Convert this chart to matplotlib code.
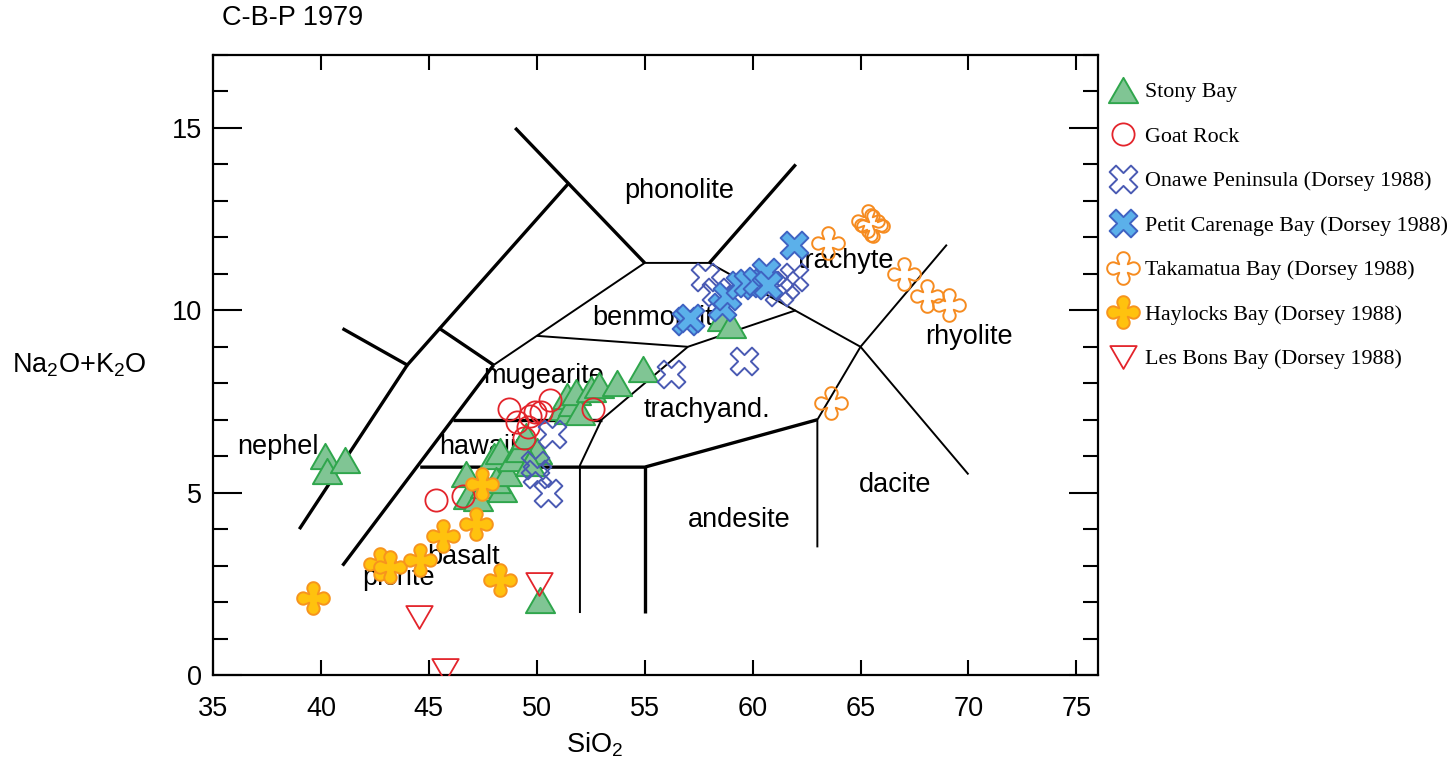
import numpy as np
import matplotlib.pyplot as plt
from matplotlib.path import Path

plt.rcParams['font.family'] = ['Liberation Sans', 'DejaVu Sans']
plt.rcParams['mathtext.default'] = 'regular'

# --- sample data: SiO2 (wt%) and Na2O+K2O (wt%) ---
stony_sio2 = [40.2, 40.3, 41.1, 46.7, 46.8, 47.3, 47.6, 48.0, 48.3, 48.4, 48.1, 48.6, 48.9,
              49.2, 49.5, 50.0, 49.7, 50.15, 51.2, 51.4, 51.5, 51.7, 51.8, 52.0, 52.5, 52.9,
              53.7, 54.9, 58.6, 59.0]
stony_alk = [6.0, 5.6, 5.9, 5.5, 4.9, 4.85, 5.2, 6.0, 6.15, 5.1, 5.35, 5.55, 5.95,
             6.2, 6.55, 6.15, 5.8, 2.05, 7.35, 7.65, 7.25, 7.45, 7.75, 7.2, 7.85, 7.95,
             8.0, 8.4, 9.8, 9.6]

goat_sio2 = [45.35, 46.6, 48.7, 49.1, 49.4, 49.6, 49.7, 49.9, 50.2, 50.6, 52.6]
goat_alk = [4.8, 4.9, 7.3, 6.95, 6.5, 6.8, 7.1, 7.2, 7.2, 7.55, 7.3]

onawe_sio2 = [49.9, 50.0, 50.5, 50.7, 56.2, 57.8, 58.3, 59.6, 61.2, 61.5, 61.9]
onawe_alk = [5.75, 5.5, 5.0, 6.6, 8.25, 10.9, 10.5, 8.6, 10.5, 10.7, 10.9]

petit_sio2 = [56.9, 57.1, 58.6, 58.8, 59.4, 59.8, 60.2, 60.6, 60.7, 61.9]
petit_alk = [9.7, 9.8, 10.1, 10.4, 10.7, 10.75, 10.8, 11.05, 10.7, 11.8]

taka_sio2 = [63.5, 65.35, 65.5, 65.6, 67.0, 68.1, 69.1, 63.65]
taka_alk = [11.85, 12.45, 12.35, 12.3, 11.0, 10.4, 10.15, 7.45]

hay_sio2 = [39.65, 42.75, 43.2, 44.6, 45.65, 47.2, 47.45, 48.3]
hay_alk = [2.1, 3.05, 2.95, 3.15, 3.8, 4.15, 5.25, 2.6]

bons_sio2 = [44.55, 45.75, 50.1]
bons_alk = [1.6, 0.15, 2.5]

# --- C-B-P 1979 field boundaries ---
thick_lines = [
    [(39.0, 4.0), (44.0, 8.5)],
    [(41.0, 9.5), (44.0, 8.5), (45.5, 9.5), (48.0, 8.5)],
    [(45.5, 9.5), (51.5, 13.5)],
    [(49.0, 15.0), (55.0, 11.3)],
    [(58.0, 11.3), (62.0, 14.0)],
    [(41.0, 3.0), (48.0, 8.5)],
    [(46.1, 7.0), (53.0, 7.0)],
    [(44.6, 5.7), (55.0, 5.7), (63.0, 7.0)],
    [(55.0, 5.7), (55.0, 1.7)],
]
thin_lines = [
    [(48.0, 8.5), (50.0, 9.3), (55.0, 11.3), (58.0, 11.3), (65.0, 9.0), (70.0, 5.5)],
    [(50.0, 9.3), (57.0, 9.0), (62.0, 10.0)],
    [(57.0, 9.0), (53.0, 7.0), (52.0, 5.75), (52.0, 1.7)],
    [(63.0, 3.5), (63.0, 7.0), (65.0, 9.0), (69.0, 11.8)],
]

field_names = ['phonolite', 'trachyte', 'rhyolite', 'benmoreite', 'mugearite', 'trachyand.',
               'hawaiite', 'nephel', 'basalt', 'picrite', 'andesite', 'dacite']
field_x = [56.6, 64.3, 70.0, 55.7, 50.3, 57.9, 47.8, 38.0, 46.6, 43.6, 59.4, 66.6]
field_y = [13.27, 11.35, 9.26, 9.8, 8.21, 7.28, 6.24, 6.24, 3.24, 2.66, 4.26, 5.22]


# marker shapes
def fat_x(a=0.3):
    pts = np.array([(a, -a), (1, -a), (1, a), (a, a), (a, 1), (-a, 1), (-a, a), (-1, a),
                    (-1, -a), (-a, -a), (-a, -1), (a, -1), (a, -a)])
    c, s = np.cos(np.pi / 4), np.sin(np.pi / 4)
    rot = pts @ np.array([[c, s], [-s, c]])
    return Path(rot, closed=True)


def lobed_cross(h=0.26, c=0.62, r=0.38, span=100):
    verts = []
    for k in range(4):
        ang = k * np.pi / 2
        t = np.linspace(-np.radians(span), np.radians(span), 30) + ang
        cx, cy = c * np.cos(ang), c * np.sin(ang)
        verts.extend(zip(cx + r * np.cos(t), cy + r * np.sin(t)))
        ca = ang + np.pi / 4
        verts.append((h * np.sqrt(2) * np.cos(ca), h * np.sqrt(2) * np.sin(ca)))
    verts.append(verts[0])
    return Path(verts, closed=True)


tri_up = Path([(0, 1), (-1.1547, -1), (1.1547, -1), (0, 1)], closed=True)
tri_down = Path([(0, -1), (-1.1547, 1), (1.1547, 1), (0, -1)], closed=True)

fig = plt.figure(figsize=(14.55, 7.75), dpi=100)
ax = fig.add_axes([0.1464, 0.129, 0.6082, 0.8])

for seg in thick_lines:
    xs, ys = zip(*seg)
    ax.plot(xs, ys, color='black', lw=2.4, solid_capstyle='butt', zorder=1)
for seg in thin_lines:
    xs, ys = zip(*seg)
    ax.plot(xs, ys, color='black', lw=1.4, solid_capstyle='butt', zorder=1)

for name, x, y in zip(field_names, field_x, field_y):
    ax.text(x, y, name, fontsize=19.5, ha='center', va='center', zorder=2)

ax.plot(stony_sio2, stony_alk, ls='none', marker=tri_up, ms=21, mfc='#80c594', mec='#2fa64c',
        mew=1.4, label='Stony Bay', zorder=3)
ax.plot(goat_sio2, goat_alk, ls='none', marker='o', ms=16, mfc='none', mec='#e3242b',
        mew=1.3, label='Goat Rock', zorder=3)
ax.plot(onawe_sio2, onawe_alk, ls='none', marker=fat_x(), ms=20, mfc='none', mec='#4a5ab3',
        mew=1.4, label='Onawe Peninsula (Dorsey 1988)', zorder=3)
ax.plot(petit_sio2, petit_alk, ls='none', marker=fat_x(), ms=20, mfc='#5bb0ea', mec='#3f63c2',
        mew=1.4, label='Petit Carenage Bay (Dorsey 1988)', zorder=3)
ax.plot(taka_sio2, taka_alk, ls='none', marker=lobed_cross(), ms=23.5, mfc='none', mec='#f68b1f',
        mew=1.4, label='Takamatua Bay (Dorsey 1988)', zorder=3)
ax.plot(hay_sio2, hay_alk, ls='none', marker=lobed_cross(), ms=23.5, mfc='#ffc20e', mec='#f7941d',
        mew=1.4, label='Haylocks Bay (Dorsey 1988)', zorder=3)
ax.plot(bons_sio2, bons_alk, ls='none', marker=tri_down, ms=19, mfc='none', mec='#e3242b',
        mew=1.3, label='Les Bons Bay (Dorsey 1988)', zorder=3)

ax.set_xlim(35, 76)
ax.set_ylim(0, 17)
ax.set_xticks(range(35, 80, 5))
ax.set_yticks([0, 5, 10, 15])
ax.set_yticks(range(0, 18), minor=True)
ax.tick_params(which='both', direction='in', top=True, right=True, width=1.5, labelsize=19.5)
ax.tick_params(axis='x', which='major', length=11, pad=15)
ax.tick_params(axis='y', which='major', length=21, pad=8)
ax.tick_params(axis='y', which='minor', length=11)
for sp in ax.spines.values():
    sp.set_linewidth(1.6)

fig.text(222 / 1455, 1 - 18 / 775, 'C-B-P 1979', fontsize=19.5, ha='left', va='center')
fig.text(595 / 1455, 1 - 745 / 775, 'SiO$_2$', fontsize=19.5, ha='center', va='center')
fig.text(12 / 1455, 1 - 365 / 775, 'Na$_2$O+K$_2$O', fontsize=19.5, ha='left', va='center')

fig.legend(loc='upper left', bbox_to_anchor=(1112 / 1455, 1 - 82 / 775), frameon=False,
           prop={'family': 'Liberation Serif', 'size': 15.8}, handlelength=1.0,
           handletextpad=0.5, labelspacing=1.1, borderpad=0, borderaxespad=0)

fig.savefig('out.png', dpi=100)
